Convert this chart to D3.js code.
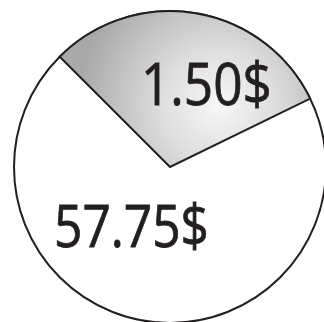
<!DOCTYPE html>
<html>
<head>
<meta charset="utf-8">
<script src="https://cdn.jsdelivr.net/npm/d3@7"></script>
<style>
  html, body { margin: 0; padding: 0; background: #fff; }
  svg { display: block; }
</style>
</head>
<body>
<script>
// Price breakdown: highlighted fee vs remaining amount
const categories = ["fee", "rest"];
const amounts = [1.50, 57.75];
const labelText = amounts.map(v => d3.format(".2f")(v) + "$");

const W = 324, H = 322;
const cx = 170, cy = 167, R = 156;
// highlighted sector is drawn at a fixed illustrative size (degrees from 12 o'clock)
const highlightStart = -45, highlightEnd = 64;
const ink = "#231f20";

const svg = d3.select("body").append("svg")
  .attr("width", W).attr("height", H);

const defs = svg.append("defs");
// soft highlight behind the fee label (coordinates relative to the pie centre)
const grad = defs.append("radialGradient")
  .attr("id", "feeFill")
  .attr("gradientUnits", "userSpaceOnUse")
  .attr("cx", 48).attr("cy", -62).attr("r", 140);
grad.append("stop").attr("offset", "0%").attr("stop-color", "#f7f7f7");
grad.append("stop").attr("offset", "40%").attr("stop-color", "#dedede");
grad.append("stop").attr("offset", "100%").attr("stop-color", "#a9a9a9");

const g = svg.append("g").attr("transform", `translate(${cx},${cy})`);
const rad = d3.scaleLinear().domain([0, 360]).range([0, 2 * Math.PI]);

// full disc for the remaining amount
g.append("circle")
  .attr("r", R)
  .attr("fill", "#fff")
  .attr("stroke", ink)
  .attr("stroke-width", 2);

// highlighted sector for the fee
const arc = d3.arc().innerRadius(0).outerRadius(R);
g.append("path")
  .datum({ startAngle: rad(highlightStart), endAngle: rad(highlightEnd) })
  .attr("d", arc)
  .attr("fill", "url(#feeFill)")
  .attr("stroke", ink)
  .attr("stroke-width", 2)
  .attr("stroke-linejoin", "miter");

// value labels
const labelPos = [
  { x: 141, y: 105, w: 131 },
  { x: 54, y: 247, w: 155 }
];
labelText.forEach((t, i) => {
  const p = labelPos[i];
  const txt = svg.append("text")
    .attr("class", "label-" + categories[i])
    .attr("x", 0).attr("y", 0)
    .attr("font-family", "'Open Sans', sans-serif")
    .attr("font-size", 58)
    .attr("fill", ink)
    .attr("stroke", ink)
    .attr("stroke-width", 0.8)
    .text(t);
  const bw = txt.node().getBBox().width;
  txt.attr("transform", `translate(${p.x},${p.y}) scale(${p.w / bw},1)`);
});
</script>
</body>
</html>
